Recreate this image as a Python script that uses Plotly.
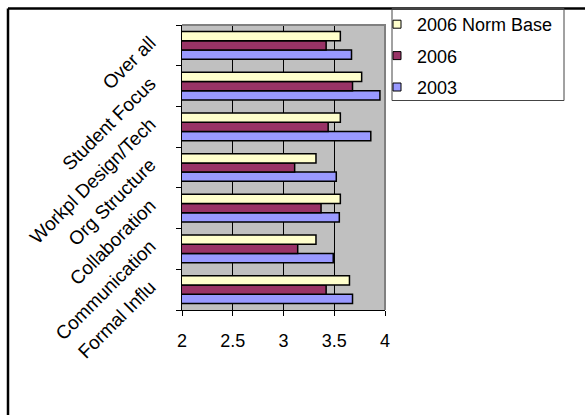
import plotly.graph_objects as go

# Survey dimensions, bottom to top
categories = ["Formal Influ", "Communication", "Collaboration", "Org Structure",
              "Workpl Design/Tech", "Student Focus", "Over all"]

series_names = ["2003", "2006", "2006 Norm Base"]
values_2003 = [3.68, 3.49, 3.55, 3.52, 3.86, 3.95, 3.67]
values_2006 = [3.42, 3.14, 3.37, 3.11, 3.44, 3.68, 3.42]
values_norm = [3.65, 3.32, 3.56, 3.32, 3.56, 3.77, 3.56]
series_colors = ["#9999FF", "#993366", "#FFFFCC"]

x_ticks = [2, 2.5, 3, 3.5, 4]
x_tick_labels = ["2", "2.5", "3", "3.5", "4"]

FONT = "Liberation Sans, Arial, sans-serif"

# plot-area geometry in pixels
W_FIG, H_FIG = 585, 415
L, R, T, B = 182, 385, 25, 310


def px_x(p):
    return (p - L) / (R - L)


def px_y(p):
    return (B - p) / (B - T)


fig = go.Figure()

for name, vals, col in zip(series_names, [values_2003, values_2006, values_norm], series_colors):
    fig.add_trace(go.Bar(
        y=categories, x=vals, orientation="h", name=name,
        marker=dict(color=col, line=dict(color="black", width=1.5)),
        showlegend=False,
    ))

# legend entries, top to bottom
for name, col in zip(series_names[::-1], series_colors[::-1]):
    fig.add_trace(go.Scatter(
        x=[None], y=[None], mode="markers", name=name, legendgroup=name,
        marker=dict(symbol="square", size=8, color=col, line=dict(color="black", width=1)),
    ))

shapes = [
    # outer frame (top and left edges)
    dict(type="line", xref="paper", yref="paper", x0=px_x(8), x1=px_x(600),
         y0=px_y(8.5), y1=px_y(8.5), line=dict(color="black", width=2.5)),
    dict(type="line", xref="paper", yref="paper", x0=px_x(8), x1=px_x(8),
         y0=px_y(8.5), y1=px_y(430), line=dict(color="black", width=2.5)),
    # legend box
    dict(type="rect", xref="paper", yref="paper", x0=px_x(392), x1=px_x(564),
         y0=px_y(100.5), y1=px_y(8.5), line=dict(color="#444444", width=1)),
    # plot-area border (top and right)
    dict(type="path", xref="paper", yref="paper", layer="above",
         path="M 0 1 L 1 1 L 1 0", line=dict(color="#808080", width=2)),
]

fig.update_layout(
    width=W_FIG, height=H_FIG,
    margin=dict(l=L, r=W_FIG - R, t=T, b=H_FIG - B, pad=0, autoexpand=False),
    paper_bgcolor="white", plot_bgcolor="#C0C0C0",
    barmode="group", bargap=0.32, bargroupgap=0,
    font=dict(family=FONT, size=18, color="black"),
    showlegend=True,
    legend=dict(x=px_x(377), y=px_y(6), xanchor="left", yanchor="top",
                bgcolor="rgba(0,0,0,0)", borderwidth=0,
                traceorder="grouped", tracegroupgap=5,
                font=dict(family=FONT, size=18, color="black")),
    xaxis=dict(range=[2, 4], tickvals=x_ticks, ticktext=x_tick_labels,
               showgrid=True, gridcolor="black", gridwidth=1,
               showline=True, linecolor="black", linewidth=1,
               ticks="outside", ticklen=5, tickcolor="black",
               ticklabelstandoff=9,
               zeroline=False, tickfont=dict(size=18)),
    yaxis=dict(type="category", categoryorder="array", categoryarray=categories,
               showgrid=False, showline=True, linecolor="black", linewidth=1,
               ticks="outside", ticklen=5, tickcolor="black", tickson="boundaries",
               tickangle=-45, ticklabelshift=-5, ticklabelstandoff=27,
               tickfont=dict(size=19)),
    shapes=shapes,
)

fig.write_html("out.html")
